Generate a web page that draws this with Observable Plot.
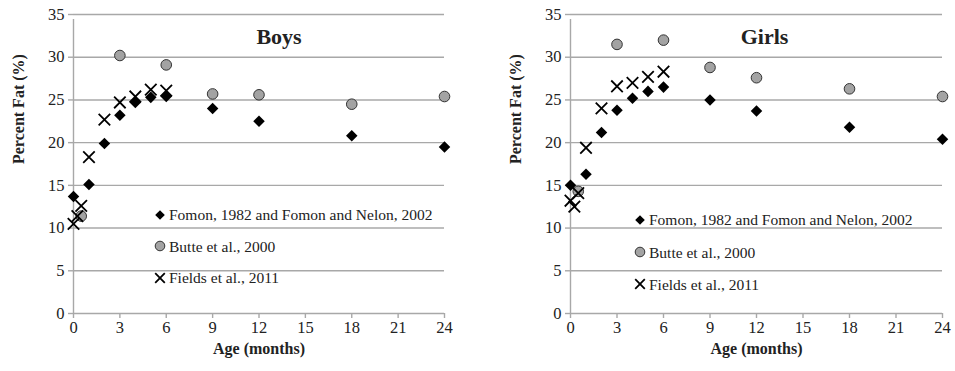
<!DOCTYPE html>
<html>
<head>
<meta charset="utf-8">
<script src="https://cdn.jsdelivr.net/npm/d3@7"></script>
<script src="https://cdn.jsdelivr.net/npm/@observablehq/plot@0.6"></script>
<style>
  html, body { margin: 0; padding: 0; background: #fff; }
  #wrap { position: relative; width: 955px; height: 371px; font-family: "Liberation Serif", serif; color: #222; }
  #wrap svg.plot { position: absolute; top: 0; }
  .legend { position: absolute; font-size: 15.5px; line-height: 1; white-space: nowrap; }
  .legend .row { position: absolute; left: 0; display: flex; align-items: center; }
  .legend .row svg { width: 14px; height: 14px; margin-left: -7px; margin-right: 2px; }
</style>
</head>
<body>
<div id="wrap"></div>
<script>
// ---------- data ----------
const xTicks = [0, 3, 6, 9, 12, 15, 18, 21, 24];
const yTicks = [0, 5, 10, 15, 20, 25, 30, 35];
const panelTitles = ["Boys", "Girls"];
const seriesNames = ["Fomon, 1982 and Fomon and Nelon, 2002", "Butte et al., 2000", "Fields et al., 2011"];
const xLabel = "Age (months)";
const yLabel = "Percent Fat (%)";

const fomonAge = [0, 1, 2, 3, 4, 5, 6, 9, 12, 18, 24];
const boysFomon = [13.7, 15.1, 19.9, 23.2, 24.7, 25.3, 25.4, 24.0, 22.5, 20.8, 19.5];
const girlsFomon = [15.0, 16.3, 21.2, 23.8, 25.2, 26.0, 26.5, 25.0, 23.7, 21.8, 20.4];

const butteAge = [0.5, 3, 6, 9, 12, 18, 24];
const boysButte = [11.4, 30.2, 29.1, 25.7, 25.6, 24.5, 25.4];
const girlsButte = [14.3, 31.5, 32.0, 28.8, 27.6, 26.3, 25.4];

const fieldsAge = [0, 0.25, 0.5, 1, 2, 3, 4, 5, 6];
const boysFields = [10.5, 11.4, 12.6, 18.3, 22.7, 24.7, 25.4, 26.2, 26.1];
const girlsFields = [13.2, 12.5, 14.1, 19.4, 24.0, 26.6, 27.0, 27.7, 28.3];

// ---------- styles ----------
const gridColor = "#a8a8a8";
const circleFill = "#a3a3a3";
const circleStroke = "#333";

function toRows(ages, vals) { return ages.map((a, i) => ({age: a, pct: vals[i]})); }

function panel(title, fomon, butte, fields, opts) {
  return Plot.plot({
    width: opts.width, height: 371,
    marginLeft: opts.marginLeft, marginRight: opts.marginRight, marginTop: 14, marginBottom: 58,
    style: {fontFamily: "Liberation Serif, serif", fontSize: "16.5px", color: "#222", background: "transparent", overflow: "visible"},
    x: {domain: [0, 24], ticks: xTicks, label: null},
    y: {domain: [0, 35], ticks: yTicks, label: null},
    marks: [
      Plot.gridY(yTicks, {stroke: gridColor, strokeOpacity: 1, strokeWidth: 1.4}),
      Plot.ruleX([0], {y1: 0, y2: 35, stroke: gridColor, strokeWidth: 1.4, insetBottom: -5}),
      Plot.axisY({ticks: yTicks, tickSize: 5, tickPadding: 4, stroke: gridColor, strokeWidth: 1.4, label: null}),
      Plot.axisX({ticks: xTicks, tickSize: 5, tickPadding: 3, stroke: gridColor, strokeWidth: 1.4, label: null}),
      Plot.text([yLabel], {frameAnchor: "left", dx: -55, rotate: -90, fontWeight: "bold", fontSize: 16}),
      Plot.text([xLabel], {frameAnchor: "bottom", dy: 40, fontWeight: "bold", fontSize: 16}),
      Plot.text([title], {frameAnchor: "top", lineAnchor: "middle", dy: 22, dx: opts.titleDx, fontWeight: "bold", fontSize: 22}),
      Plot.dot(toRows(butteAge, butte), {x: "age", y: "pct", r: 5.3, fill: circleFill, stroke: circleStroke, strokeWidth: 1}),
      Plot.dot(toRows(fomonAge, fomon), {x: "age", y: "pct", symbol: "square", r: 4.6, rotate: 45, fill: "#000", stroke: "none"}),
      Plot.dot(toRows(fieldsAge, fields), {x: "age", y: "pct", symbol: "times", r: 5.3, stroke: "#000", strokeWidth: 1.8, fill: "none"})
    ]
  });
}

const wrap = document.getElementById("wrap");

const p1 = panel(panelTitles[0], boysFomon, boysButte, boysFields, {width: 477, marginLeft: 73, marginRight: 33, titleDx: 20});
p1.classList.add("plot");
p1.style.left = "0px";
wrap.appendChild(p1);

const p2 = panel(panelTitles[1], girlsFomon, girlsButte, girlsFields, {width: 478, marginLeft: 93, marginRight: 13, titleDx: 8});
p2.classList.add("plot");
p2.style.left = "477px";
wrap.appendChild(p2);

// ---------- legends ----------
const markerSvgs = [
  `<svg viewBox="-7 -7 14 14"><polygon points="0,-4.8 4.8,0 0,4.8 -4.8,0" fill="#000"/></svg>`,
  `<svg viewBox="-7 -7 14 14"><circle r="4.8" fill="${circleFill}" stroke="${circleStroke}" stroke-width="1"/></svg>`,
  `<svg viewBox="-7 -7 14 14"><path d="M-4.8,-4.8L4.8,4.8M4.8,-4.8L-4.8,4.8" stroke="#000" stroke-width="1.8" fill="none"/></svg>`
];

function legend(left, tops) {
  const div = document.createElement("div");
  div.className = "legend";
  div.style.left = left + "px";
  div.style.top = "0px";
  seriesNames.forEach((name, i) => {
    const row = document.createElement("div");
    row.className = "row";
    row.style.top = (tops[i] - 7) + "px";
    row.innerHTML = markerSvgs[i] + `<span>${name}</span>`;
    div.appendChild(row);
  });
  wrap.appendChild(div);
}
legend(160, [214, 245.5, 277]);
legend(640, [219, 251.5, 283.5]);
</script>
</body>
</html>
